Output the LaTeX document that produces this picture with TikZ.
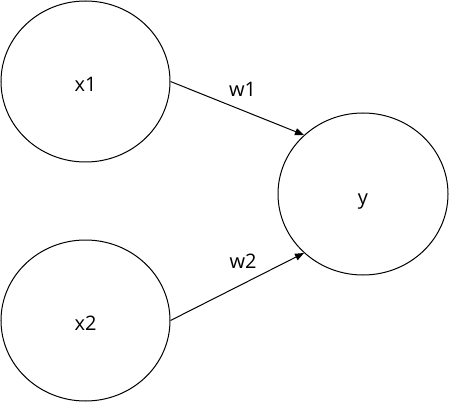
\documentclass[tikz,border=0pt]{standalone}
\usepackage{fontspec}
\setmainfont{Open Sans}
\usetikzlibrary{shapes.geometric,arrows.meta}

\begin{document}
\begin{tikzpicture}[x=1pt, y=1pt, line width=1pt,
    neuron/.style={draw, ellipse, inner sep=0pt, minimum width=169pt, minimum height=161pt,
      font=\fontsize{20}{24}\selectfont, text height=20pt, text depth=0pt},
    weight/.style={font=\fontsize{20}{24}\selectfont},
    every edge/.style={draw, -{Triangle[length=9pt,width=7pt]}}]
    \useasboundingbox (0,0) rectangle (449,402);
    \node[neuron] (x1) at (85.5,320.5) {x1};
    \node[neuron] (x2) at (85.5,81.5) {x2};
    \node[neuron, minimum width=170pt, minimum height=162pt] (y) at (363,208) {y};

    \node[weight] (w1) at (242.5,313) {w1};
    \node[weight] (w2) at (243,141) {w2};

    \path (x1.east) edge (y.135)
          (x2.east) edge (y.225);
  \end{tikzpicture}
\end{document}
